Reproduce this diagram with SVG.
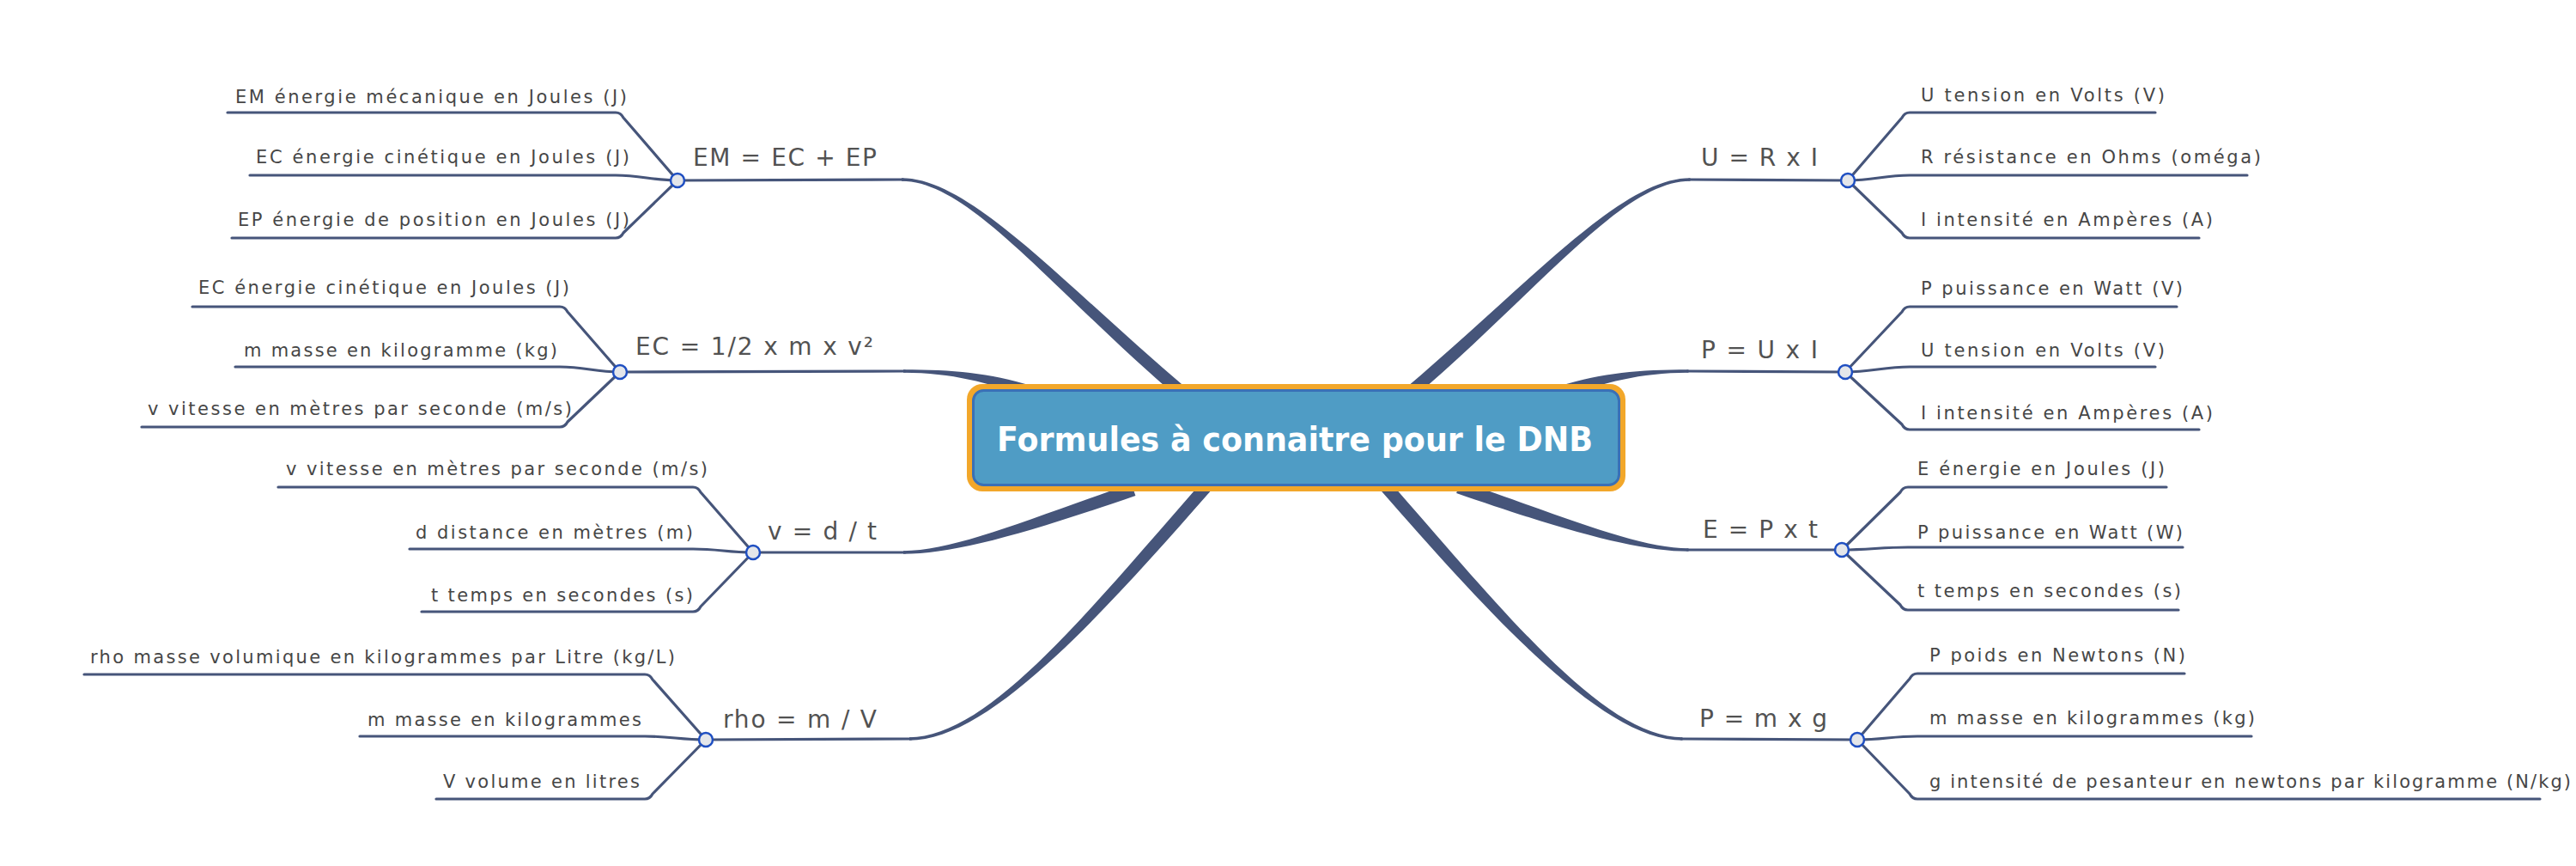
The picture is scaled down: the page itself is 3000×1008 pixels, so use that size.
<svg xmlns="http://www.w3.org/2000/svg" width="3000" height="1008" viewBox="0 0 3000 1008">
<style>
.sub{font-family:"DejaVu Sans","Liberation Sans",sans-serif;font-size:21px;fill:#464646}
.frm{font-family:"DejaVu Sans","Liberation Sans",sans-serif;font-size:28px;fill:#525252}
.ln{fill:none;stroke:#46557a;stroke-width:3.2;stroke-linecap:round;stroke-linejoin:round}
.tp{fill:#46557a}
.dot{fill:#e4e6ea;stroke:#1f4fc2;stroke-width:2.5}
.title{font-family:"DejaVu Sans","Liberation Sans",sans-serif;font-size:39px;font-weight:bold;fill:#ffffff}
</style>
<defs>
<path id="cEM" d="M1050,207.2 C1130,207.2 1234.5,327.3 1384.5,454.3 L1375.5,465.7 C1225.5,338.7 1130,210.8 1050,210.8 Z"/>
<path id="cEC" d="M1052,430.2 C1110,430.2 1151.7,434.1 1201.7,449.1 L1198.3,460.9 C1148.3,445.9 1110,433.8 1052,433.8 Z"/>
<path id="cV" d="M1052,641.2 C1110,641.2 1187.6,608.1 1317.6,563.1 L1322.4,576.9 C1192.4,621.9 1110,644.8 1052,644.8 Z"/>
<path id="cRho" d="M1059,858.2 C1150,858.2 1264.5,715.2 1399.5,561.2 L1410.5,570.8 C1275.5,724.8 1150,861.8 1059,861.8 Z"/>
</defs>
<rect width="3000" height="1008" fill="#ffffff"/>
<g id="connectors">
  <use href="#cEM" class="tp"/>
  <use href="#cEC" class="tp"/>
  <use href="#cV" class="tp"/>
  <use href="#cRho" class="tp"/>
  <use href="#cEM" class="tp" transform="matrix(-1,0,0,1,3018.5,0)"/>
  <use href="#cEC" class="tp" transform="matrix(-1,0,0,1,3018.5,0)"/>
  <use href="#cV" class="tp" transform="matrix(-1,0,0,1,3018.5,-3)"/>
  <use href="#cRho" class="tp" transform="matrix(-1,0,0,1,3018.5,0)"/>
  <path class="ln" d="M789,210 L1052,209"/>
  <path class="ln" d="M722,433 L1054,432"/>
  <path class="ln" d="M877,643 L1054,643"/>
  <path class="ln" d="M822,861 L1061,860"/>
  <path class="ln" d="M2152,210 L1967,209"/>
  <path class="ln" d="M2149,433 L1965,432"/>
  <path class="ln" d="M2145,640 L1965,640"/>
  <path class="ln" d="M2163,861 L1958,860"/>
  <path class="ln" d="M265,131 L717,131 Q723,131 726,137 L789,210"/>
  <path class="ln" d="M291,204 L717,204 C747,204 759,210 789,210"/>
  <path class="ln" d="M270,277 L717,277 Q723,277 726,271 L789,210"/>
  <path class="ln" d="M224,357 L652,357 Q658,357 661,363 L722,433"/>
  <path class="ln" d="M274,427 L652,427 C682,427 692,433 722,433"/>
  <path class="ln" d="M165,497 L652,497 Q658,497 661,491 L722,433"/>
  <path class="ln" d="M324,567 L807,567 Q813,567 816,573 L877,643"/>
  <path class="ln" d="M477,639 L807,639 C837,639 847,643 877,643"/>
  <path class="ln" d="M491,712 L807,712 Q813,712 816,706 L877,643"/>
  <path class="ln" d="M98,785 L751,785 Q757,785 760,791 L822,861"/>
  <path class="ln" d="M419,857 L751,857 C781,857 792,861 822,861"/>
  <path class="ln" d="M508,930 L751,930 Q757,930 760,924 L822,861"/>
  <path class="ln" d="M2510,131 L2224,131 Q2218,131 2215,137 L2152,210"/>
  <path class="ln" d="M2617,204 L2224,204 C2194,204 2182,210 2152,210"/>
  <path class="ln" d="M2561,277 L2224,277 Q2218,277 2215,271 L2152,210"/>
  <path class="ln" d="M2535,357 L2224,357 Q2218,357 2215,363 L2149,433"/>
  <path class="ln" d="M2510,427 L2224,427 C2194,427 2179,433 2149,433"/>
  <path class="ln" d="M2561,500 L2224,500 Q2218,500 2215,494 L2149,433"/>
  <path class="ln" d="M2523,567 L2222,567 Q2216,567 2213,573 L2145,640"/>
  <path class="ln" d="M2542,637 L2222,637 C2192,637 2175,640 2145,640"/>
  <path class="ln" d="M2537,710 L2222,710 Q2216,710 2213,704 L2145,640"/>
  <path class="ln" d="M2544,784 L2233,784 Q2227,784 2224,790 L2163,861"/>
  <path class="ln" d="M2622,857 L2233,857 C2203,857 2193,861 2163,861"/>
  <path class="ln" d="M2958,930 L2233,930 Q2227,930 2224,924 L2163,861"/>
</g>
<g id="center">
  <rect x="1126" y="447" width="767" height="125" rx="18" fill="#f2a72a"/>
  <rect x="1133.5" y="454.5" width="752" height="110" rx="12" fill="#4f9cc5" stroke="#3a70b6" stroke-width="3"/>
  <text class="title" x="1161" y="525" textLength="694" lengthAdjust="spacingAndGlyphs">Formules à connaitre pour le DNB</text>
</g>
<g id="node-em">
  <circle class="dot" cx="789" cy="210" r="8"/>
  <text class="frm" x="807" y="193" textLength="214">EM = EC + EP</text>
  <text class="sub" x="274" y="120" textLength="456">EM énergie mécanique en Joules (J)</text>
  <text class="sub" x="298" y="190" textLength="435">EC énergie cinétique en Joules (J)</text>
  <text class="sub" x="277" y="263" textLength="456">EP énergie de position en Joules (J)</text>
</g>
<g id="node-ec">
  <circle class="dot" cx="722" cy="433" r="8"/>
  <text class="frm" x="740" y="413" textLength="277">EC = 1/2 x m x v²</text>
  <text class="sub" x="231" y="342" textLength="432">EC énergie cinétique en Joules (J)</text>
  <text class="sub" x="284" y="415" textLength="365">m masse en kilogramme (kg)</text>
  <text class="sub" x="172" y="483" textLength="494">v vitesse en mètres par seconde (m/s)</text>
</g>
<g id="node-v">
  <circle class="dot" cx="877" cy="643" r="8"/>
  <text class="frm" x="894" y="628" textLength="127">v = d / t</text>
  <text class="sub" x="333" y="553" textLength="491">v vitesse en mètres par seconde (m/s)</text>
  <text class="sub" x="484" y="627" textLength="323">d distance en mètres (m)</text>
  <text class="sub" x="502" y="700" textLength="305">t temps en secondes (s)</text>
</g>
<g id="node-rho">
  <circle class="dot" cx="822" cy="861" r="8"/>
  <text class="frm" x="842" y="847" textLength="179">rho = m / V</text>
  <text class="sub" x="105" y="772" textLength="681">rho masse volumique en kilogrammes par Litre (kg/L)</text>
  <text class="sub" x="428" y="845" textLength="319">m masse en kilogrammes</text>
  <text class="sub" x="516" y="917" textLength="229">V volume en litres</text>
</g>
<g id="node-u">
  <circle class="dot" cx="2152" cy="210" r="8"/>
  <text class="frm" x="1981" y="193" textLength="136">U = R x I</text>
  <text class="sub" x="2237" y="118" textLength="284">U tension en Volts (V)</text>
  <text class="sub" x="2237" y="190" textLength="396">R résistance en Ohms (oméga)</text>
  <text class="sub" x="2237" y="263" textLength="340">I intensité en Ampères (A)</text>
</g>
<g id="node-p-ui">
  <circle class="dot" cx="2149" cy="433" r="8"/>
  <text class="frm" x="1981" y="417" textLength="136">P = U x I</text>
  <text class="sub" x="2237" y="343" textLength="305">P puissance en Watt (V)</text>
  <text class="sub" x="2237" y="415" textLength="284">U tension en Volts (V)</text>
  <text class="sub" x="2237" y="488" textLength="340">I intensité en Ampères (A)</text>
</g>
<g id="node-e">
  <circle class="dot" cx="2145" cy="640" r="8"/>
  <text class="frm" x="1983" y="626" textLength="134">E = P x t</text>
  <text class="sub" x="2233" y="553" textLength="288">E énergie en Joules (J)</text>
  <text class="sub" x="2233" y="627" textLength="309">P puissance en Watt (W)</text>
  <text class="sub" x="2233" y="695" textLength="307">t temps en secondes (s)</text>
</g>
<g id="node-p-mg">
  <circle class="dot" cx="2163" cy="861" r="8"/>
  <text class="frm" x="1979" y="846" textLength="149">P = m x g</text>
  <text class="sub" x="2247" y="770" textLength="298">P poids en Newtons (N)</text>
  <text class="sub" x="2247" y="843" textLength="379">m masse en kilogrammes (kg)</text>
  <text class="sub" x="2247" y="917" textLength="747">g intensité de pesanteur en newtons par kilogramme (N/kg)</text>
</g>
</svg>
